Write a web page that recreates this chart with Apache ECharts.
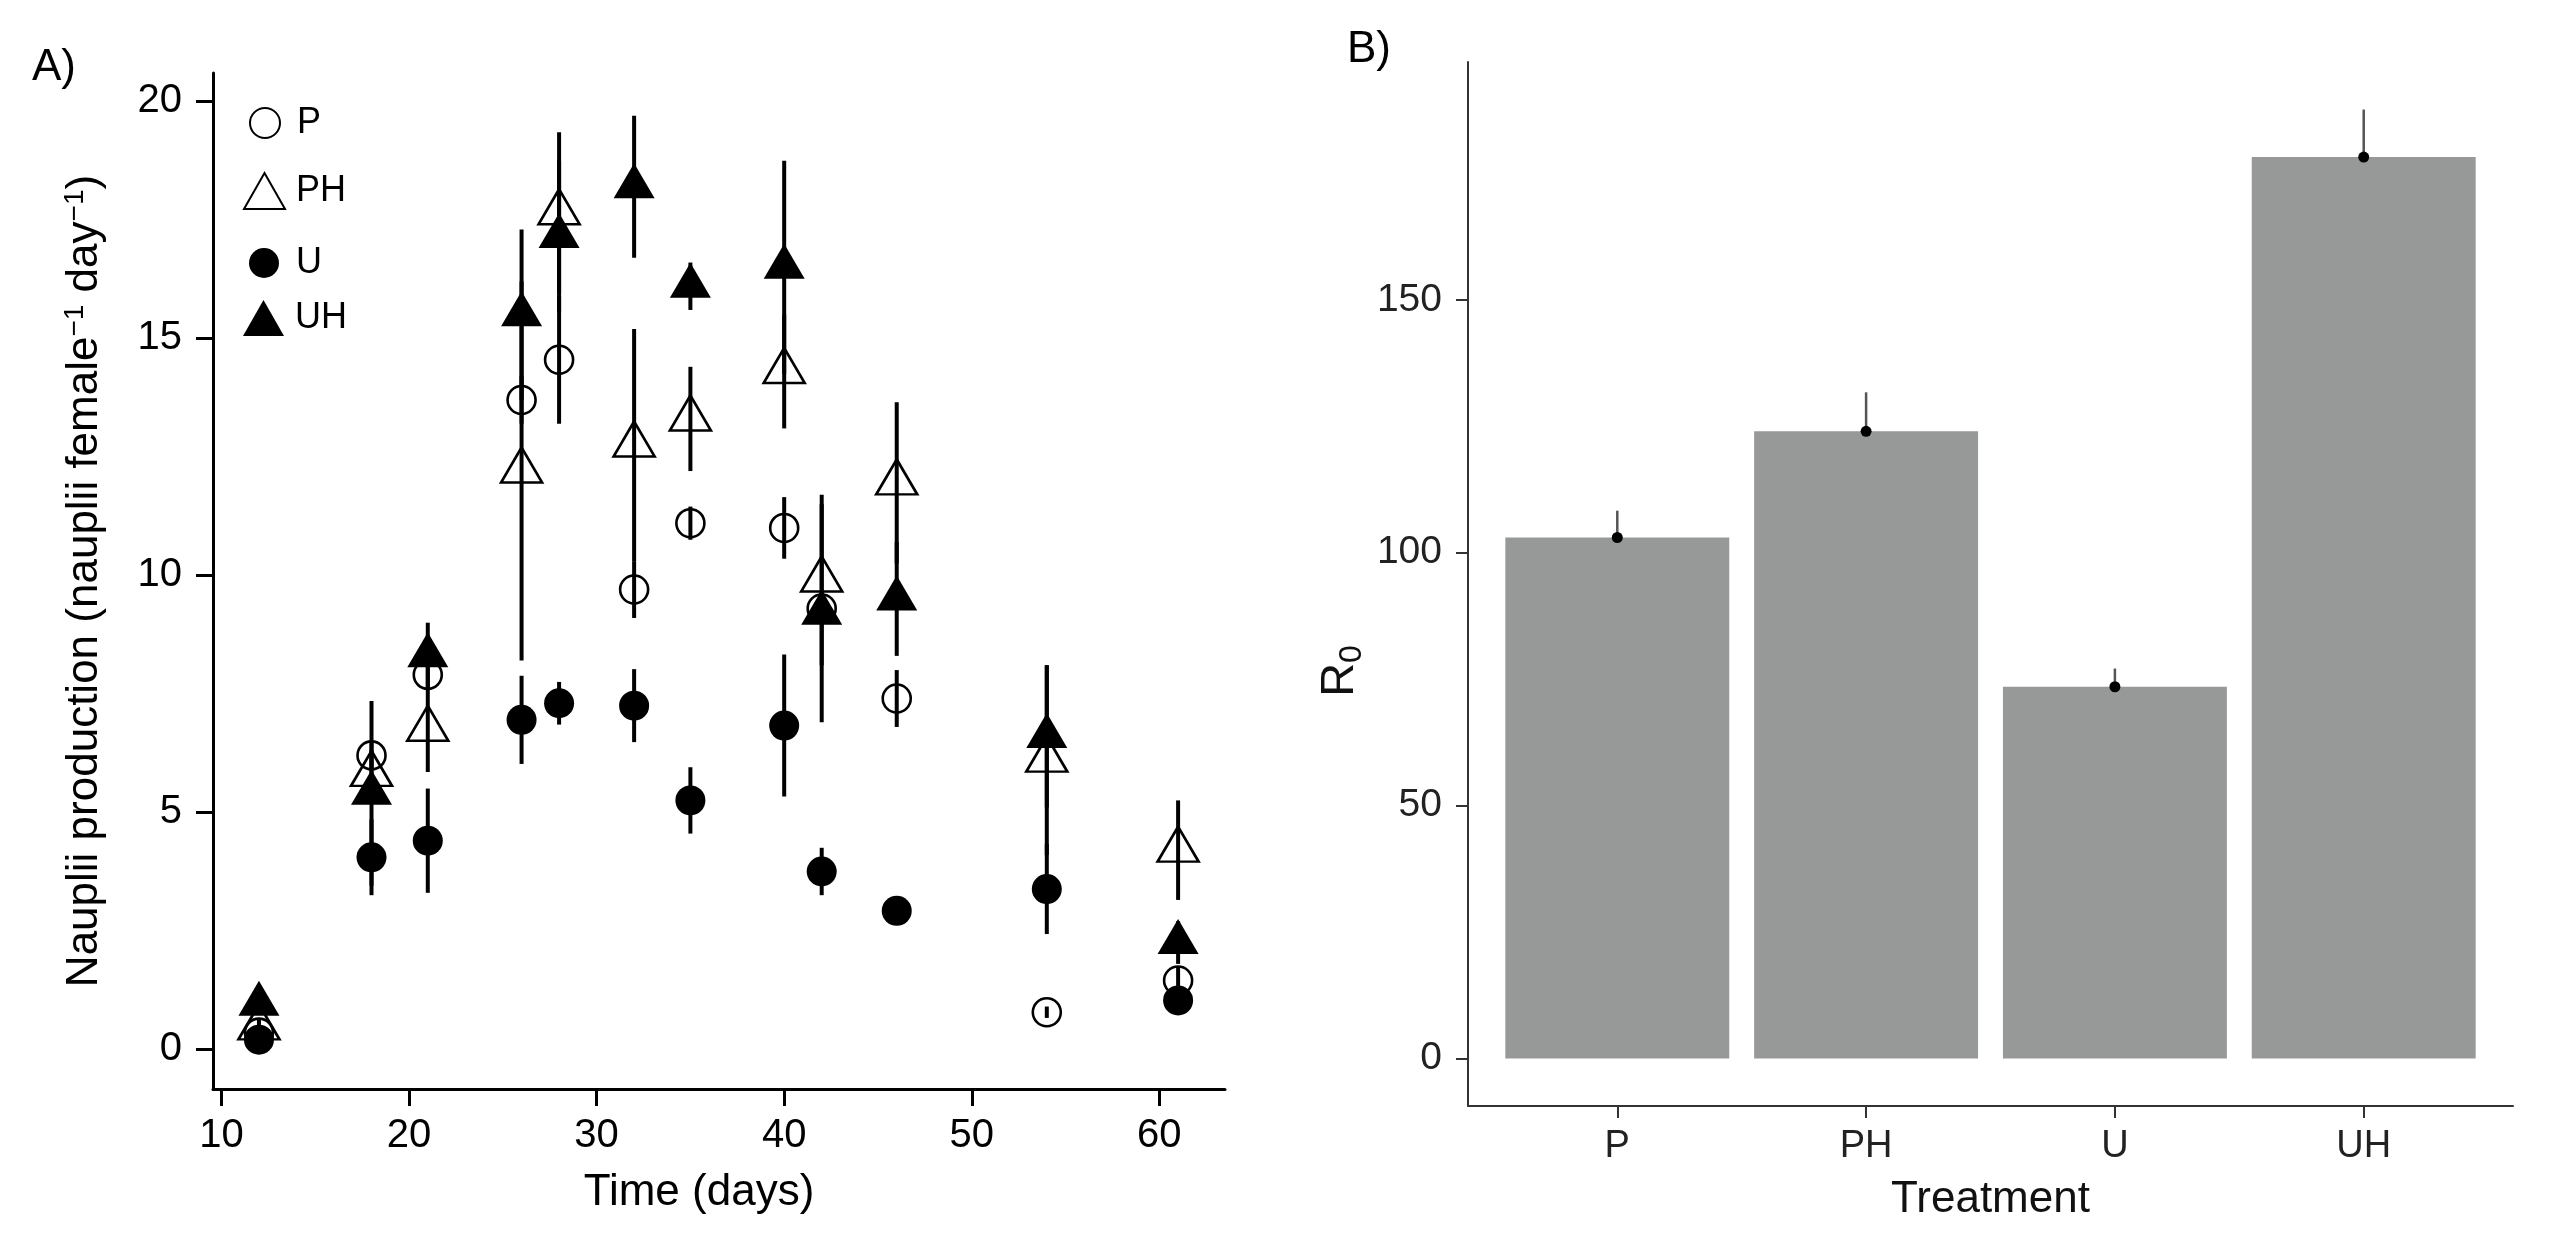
<!DOCTYPE html>
<html>
<head>
<meta charset="utf-8">
<script src="https://cdn.jsdelivr.net/npm/echarts@6/dist/echarts.min.js"></script>
<style>
html,body{margin:0;padding:0;background:#ffffff;}
#chart{width:2550px;height:1240px;}
</style>
</head>
<body>
<div id="chart"></div>
<script>
// ---------- Panel A data ----------
const days = [12, 18, 21, 26, 28, 32, 35, 40, 42, 46, 54, 61];
const pMean  = [0.35, 6.2, 7.9, 13.7, 14.55, 9.7, 11.1, 11.0, 9.3, 7.4, 0.78, 1.45];
const pErr   = [0.1, 0.3, 0.3, 0.5, 1.35, 0.6, 0.35, 0.65, 0.3, 0.6, 0.12, 0.3];
const phMean = [0.45, 5.8, 6.75, 12.2, 17.65, 12.75, 13.3, 14.3, 9.9, 11.95, 6.1, 4.2];
const phErr  = [0.2, 0.5, 0.9, 4.0, 1.7, 2.45, 1.1, 1.2, 1.8, 1.7, 2.0, 1.05];
const uMean  = [0.2, 4.05, 4.4, 6.95, 7.3, 7.25, 5.25, 6.83, 3.75, 2.92, 3.38, 1.03];
const uErr   = [0.1, 0.8, 1.1, 0.93, 0.45, 0.77, 0.7, 1.5, 0.5, 0.1, 0.95, 0.1];
const uhMean = [0.95, 5.4, 8.3, 15.5, 17.15, 18.2, 16.1, 16.5, 9.2, 9.5, 6.6, 2.25];
const uhErr  = [0.15, 1.95, 0.7, 1.8, 1.6, 1.5, 0.5, 2.25, 2.3, 1.2, 1.5, 0.45];
const xTicksA = [10, 20, 30, 40, 50, 60];
const yTicksA = [0, 5, 10, 15, 20];

// ---------- Panel B data ----------
const treatments = ['P', 'PH', 'U', 'UH'];
const r0Mean = [103.0, 124.0, 73.5, 178.2];
const r0Err  = [5.3, 7.7, 3.6, 9.4];
const yTicksB = [0, 50, 100, 150];

const FONT = 'Liberation Sans, Arial, Helvetica, sans-serif';

function pts(mean) { return days.map((d, i) => [d, mean[i]]); }
function errs(mean, err) { return days.map((d, i) => [d, mean[i] - err[i], mean[i] + err[i]]); }

function errSeries(name, mean, err) {
  return {
    name: name + ' err',
    type: 'custom',
    xAxisIndex: 0, yAxisIndex: 0,
    z: 1,
    silent: true,
    encode: { x: 0, y: [1, 2] },
    data: errs(mean, err),
    renderItem: function (params, api) {
      const a = api.coord([api.value(0), api.value(1)]);
      const b = api.coord([api.value(0), api.value(2)]);
      return {
        type: 'line',
        shape: { x1: a[0], y1: a[1], x2: b[0], y2: b[1] },
        style: { stroke: '#000', lineWidth: 4 }
      };
    }
  };
}

const openStyle = { color: 'rgba(255,255,255,0)', borderColor: '#000', borderWidth: 2.6, opacity: 1 };
const fillStyle = { color: '#000', borderColor: '#000', borderWidth: 0, opacity: 1 };

const chart = echarts.init(document.getElementById('chart'), null, { renderer: 'canvas' });

const legendBase = {
  orient: 'vertical', padding: 0, selectedMode: false,
  textStyle: { fontSize: 36, color: '#000', fontFamily: FONT, padding: [0, 0, 0, 12] }
};

const option = {
  backgroundColor: '#ffffff',
  animation: false,
  grid: [
    { left: 213, top: 73, width: 1012, height: 1016, containLabel: false },
    { left: 1468, top: 62, width: 1045, height: 1044, containLabel: false }
  ],
  legend: [
    Object.assign({}, legendBase, { data: ['P'],  left: 249, top: 105, itemWidth: 30, itemHeight: 30 }),
    Object.assign({}, legendBase, { data: ['PH'], left: 243, top: 172, itemWidth: 41, itemHeight: 36, textStyle: Object.assign({}, legendBase.textStyle, { padding: [0, 0, 0, 6] }) }),
    Object.assign({}, legendBase, { data: ['U'],  left: 249, top: 245, itemWidth: 30, itemHeight: 30 }),
    Object.assign({}, legendBase, { data: ['UH'], left: 243, top: 300, itemWidth: 41, itemHeight: 36, textStyle: Object.assign({}, legendBase.textStyle, { padding: [0, 0, 0, 6] }) })
  ],
  xAxis: [
    {
      gridIndex: 0, type: 'value', min: 9.55, max: 63.5,
      axisLine: { show: true, onZero: false, lineStyle: { color: '#000', width: 3 } },
      axisTick: { show: true, customValues: xTicksA, length: 17, lineStyle: { color: '#000', width: 3 } },
      axisLabel: { customValues: xTicksA, fontSize: 40, color: '#000', fontFamily: FONT, margin: 27 },
      splitLine: { show: false },
      name: 'Time (days)', nameLocation: 'middle', nameGap: 82,
      nameTextStyle: { fontSize: 44, color: '#000', fontFamily: FONT, padding: [0, 40, 0, 0] }
    },
    {
      gridIndex: 1, type: 'value', min: 0.4, max: 4.6,
      axisLine: { show: true, onZero: false, lineStyle: { color: '#333', width: 2 } },
      axisTick: { show: true, customValues: [1, 2, 3, 4], length: 12, lineStyle: { color: '#333', width: 2 } },
      axisLabel: {
        customValues: [1, 2, 3, 4], fontSize: 38, color: '#222', fontFamily: FONT, margin: 22,
        formatter: function (v) { return treatments[Math.round(v) - 1]; }
      },
      splitLine: { show: false },
      name: 'Treatment', nameLocation: 'middle', nameGap: 72,
      nameTextStyle: { fontSize: 44, color: '#111', fontFamily: FONT }
    }
  ],
  yAxis: [
    {
      gridIndex: 0, type: 'value', min: -0.84, max: 20.6,
      axisLine: { show: true, onZero: false, lineStyle: { color: '#000', width: 3 } },
      axisTick: { show: true, customValues: yTicksA, length: 17, lineStyle: { color: '#000', width: 3 } },
      axisLabel: { customValues: yTicksA, fontSize: 40, color: '#000', fontFamily: FONT, margin: 31 },
      splitLine: { show: false },
      name: '{t|Nauplii production (nauplii female}{s|\u22121}{t| day}{s|\u22121}{t|)}',
      nameLocation: 'middle', nameGap: 104, nameRotate: 90,
      nameTextStyle: {
        color: '#000', fontFamily: FONT,
        rich: {
          t: { fontSize: 44, lineHeight: 48, color: '#000', fontFamily: FONT },
          s: { fontSize: 28, lineHeight: 22, verticalAlign: 'top', color: '#000', fontFamily: FONT }
        }
      }
    },
    {
      gridIndex: 1, type: 'value', min: -9.38, max: 197.0,
      axisLine: { show: true, onZero: false, lineStyle: { color: '#333', width: 2 } },
      axisTick: { show: true, customValues: yTicksB, length: 12, lineStyle: { color: '#333', width: 2 } },
      axisLabel: { customValues: yTicksB, fontSize: 39, color: '#222', fontFamily: FONT, margin: 26 },
      splitLine: { show: false }
    }
  ],
  graphic: [
    { type: 'text', left: 32, top: 46, style: { text: 'A)', fontSize: 44, fill: '#000', fontFamily: FONT } },
    { type: 'text', left: 1347, top: 28, style: { text: 'B)', fontSize: 44, fill: '#000', fontFamily: FONT } },
    {
      type: 'text', x: 1340, y: 671, rotation: Math.PI / 2,
      style: {
        text: '{r|R}{s|0}', align: 'center', verticalAlign: 'middle',
        rich: {
          r: { fontSize: 47, lineHeight: 56, fill: '#111', fontFamily: FONT },
          s: { fontSize: 32, lineHeight: 28, verticalAlign: 'bottom', fill: '#111', fontFamily: FONT }
        }
      }
    }
  ],
  series: [
    errSeries('P', pMean, pErr),
    errSeries('PH', phMean, phErr),
    errSeries('U', uMean, uErr),
    errSeries('UH', uhMean, uhErr),
    {
      name: 'P', type: 'scatter', xAxisIndex: 0, yAxisIndex: 0, z: 3,
      symbol: 'circle', symbolSize: 28, data: pts(pMean), itemStyle: openStyle, emphasis: { disabled: true }
    },
    {
      name: 'PH', type: 'scatter', xAxisIndex: 0, yAxisIndex: 0, z: 3,
      symbol: 'triangle', symbolSize: [41, 35], symbolOffset: [0, -6], data: pts(phMean), itemStyle: openStyle, emphasis: { disabled: true }
    },
    {
      name: 'U', type: 'scatter', xAxisIndex: 0, yAxisIndex: 0, z: 3,
      symbol: 'circle', symbolSize: 30, data: pts(uMean), itemStyle: fillStyle, emphasis: { disabled: true }
    },
    {
      name: 'UH', type: 'scatter', xAxisIndex: 0, yAxisIndex: 0, z: 3,
      symbol: 'triangle', symbolSize: [41, 35], symbolOffset: [0, -6], data: pts(uhMean), itemStyle: fillStyle, emphasis: { disabled: true }
    },
    {
      name: 'R0 bars', type: 'custom', xAxisIndex: 1, yAxisIndex: 1, z: 2,
      encode: { x: 0, y: 1 },
      data: treatments.map((t, i) => [i + 1, r0Mean[i]]),
      renderItem: function (params, api) {
        const x = api.value(0), v = api.value(1);
        const tl = api.coord([x - 0.45, v]);
        const br = api.coord([x + 0.45, 0]);
        return {
          type: 'rect',
          shape: { x: tl[0], y: tl[1], width: br[0] - tl[0], height: br[1] - tl[1] },
          style: { fill: '#979998' }
        };
      }
    },
    {
      name: 'R0 err', type: 'custom', xAxisIndex: 1, yAxisIndex: 1, z: 4,
      encode: { x: 0, y: [1, 2] },
      data: treatments.map((t, i) => [i + 1, r0Mean[i], r0Mean[i] + r0Err[i]]),
      renderItem: function (params, api) {
        const p = api.coord([api.value(0), api.value(1)]);
        const q = api.coord([api.value(0), api.value(2)]);
        return {
          type: 'group',
          children: [
            { type: 'line', shape: { x1: p[0], y1: p[1], x2: q[0], y2: q[1] }, style: { stroke: '#555', lineWidth: 2.5 } },
            { type: 'circle', shape: { cx: p[0], cy: p[1], r: 5.5 }, style: { fill: '#000' } }
          ]
        };
      }
    }
  ]
};

chart.setOption(option);
</script>
</body>
</html>
